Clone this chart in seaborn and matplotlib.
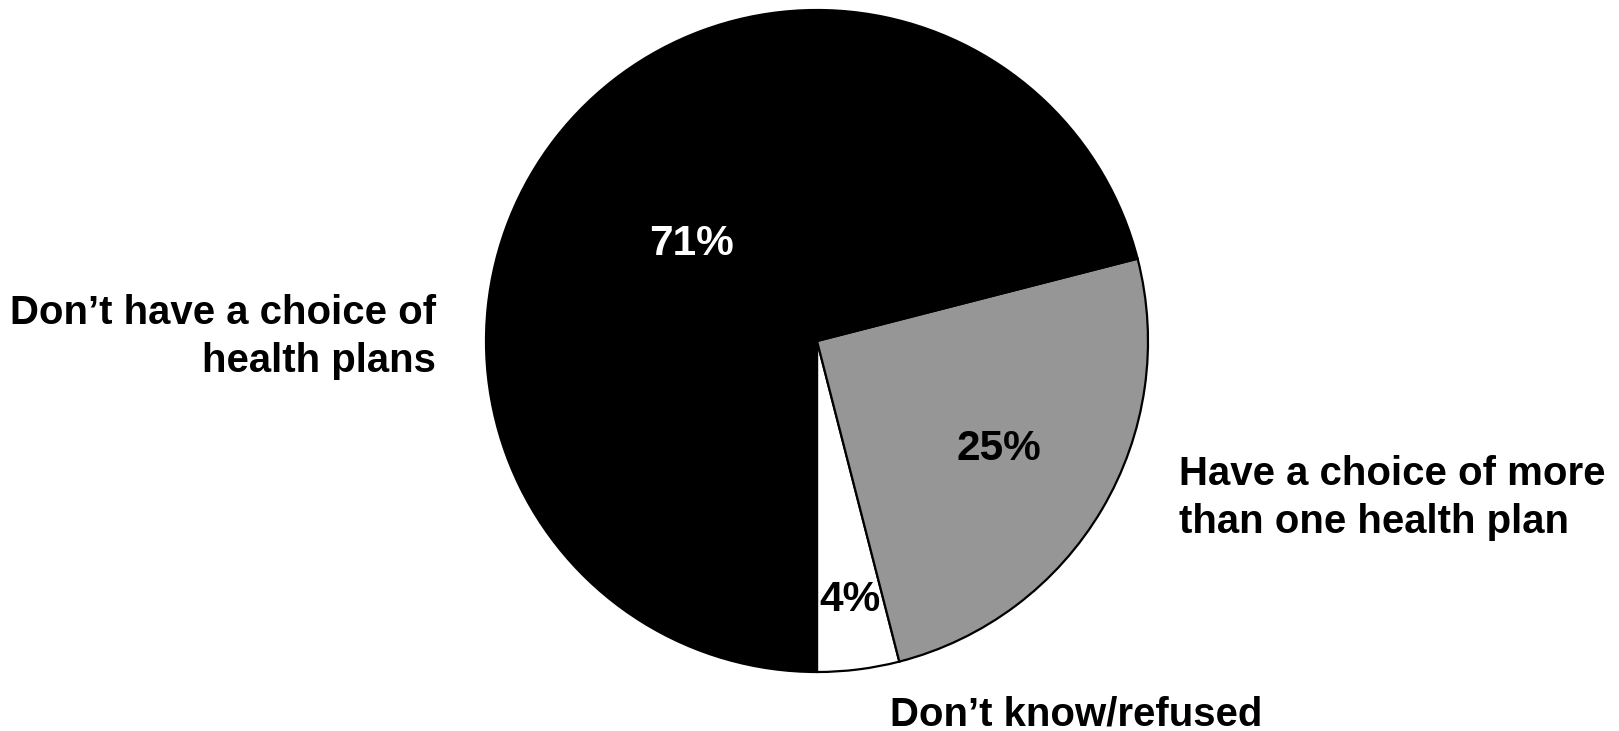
import numpy as np
import matplotlib
matplotlib.use("Agg")
import matplotlib.pyplot as plt
import seaborn as sns

# Survey shares, drawn counter-clockwise from the bottom of the pie
categories = ["Don\u2019t know/refused",
              "Have a choice of more\nthan one health plan",
              "Don\u2019t have a choice of\nhealth plans"]
shares = [4, 25, 71]
slice_colors = ["#ffffff", "#969696", "#000000"]
pct_colors = ["black", "black", "white"]

sns.set_theme(style="white")
plt.rcParams["font.family"] = ["Liberation Sans", "DejaVu Sans"]

W, H = 1619, 731
fig = plt.figure(figsize=(W / 100, H / 100), dpi=100)
ax = fig.add_axes([0, 0, 1, 1])
ax.set_xlim(0, W)
ax.set_ylim(0, H)
ax.set_aspect("equal")
ax.axis("off")

cx, cy, r = 817, 390, 331
wedges, _ = ax.pie(shares, colors=slice_colors, startangle=270,
                   counterclock=True, center=(cx, cy), radius=r,
                   wedgeprops=dict(edgecolor="black", linewidth=1.6))
ax.set_xlim(0, W)
ax.set_ylim(0, H)

# percentage labels placed along each wedge's mid-angle
dist = [0.79, 0.64, 0.48]
for w, s, d, c in zip(wedges, shares, dist, pct_colors):
    mid = np.deg2rad((w.theta1 + w.theta2) / 2)
    ax.text(cx + d * r * np.cos(mid), cy + d * r * np.sin(mid), f"{s}%",
            ha="center", va="center", fontsize=30.5, fontweight="bold", color=c)

label_fs = 28.9
ax.text(436, H - 337, categories[2], ha="right", va="center",
        fontsize=label_fs, fontweight="bold", color="black", linespacing=1.33)
ax.text(1179, H - 498, categories[1], ha="left", va="center",
        fontsize=label_fs, fontweight="bold", color="black", linespacing=1.33)
ax.text(890, H - 715, categories[0], ha="left", va="center",
        fontsize=label_fs, fontweight="bold", color="black")

fig.savefig("out.png", dpi=100, facecolor="white")
